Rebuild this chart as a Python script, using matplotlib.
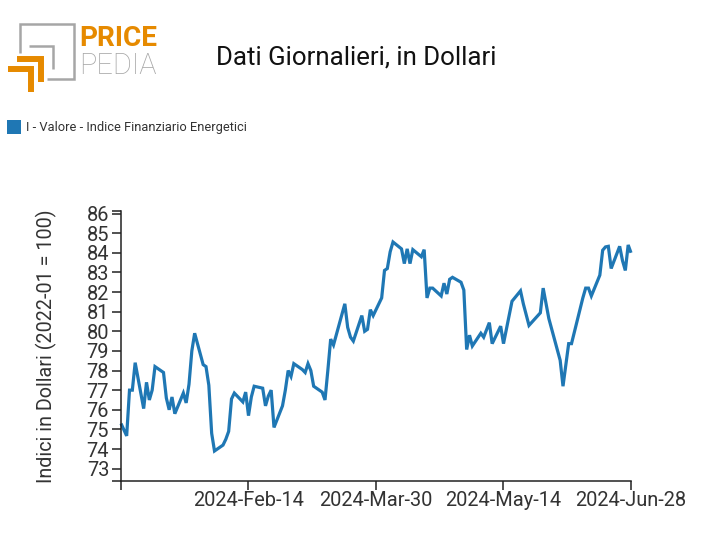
import matplotlib
matplotlib.use("Agg")
import matplotlib.pyplot as plt
from matplotlib.patches import Rectangle
import pandas as pd

plt.rcParams['font.family'] = ['Roboto', 'DejaVu Sans']

START = pd.Timestamp("2023-12-31")

# days since START
days = [0, 2, 3, 4, 5, 8, 9, 10, 11, 12, 15, 16, 17, 18, 19, 22, 23, 24, 25, 26,
        29, 30, 31, 32, 33, 36, 37, 38, 39, 40, 43, 44, 45, 46, 47, 50, 51, 52, 53, 54,
        57, 58, 59, 60, 61, 64, 65, 66, 67, 68, 71, 72, 73, 74, 75, 79, 80, 81, 82,
        85, 86, 87, 88, 89, 92, 93, 94, 95, 96, 99, 100, 101, 102, 103, 106, 107, 108, 109, 110,
        113, 114, 115, 116, 117, 120, 121, 122, 123, 124, 127, 128, 130, 131, 134, 135, 138,
        141, 142, 144, 148, 149, 151, 155, 156, 158, 159, 163, 164, 165, 166, 169, 170, 171, 172, 173,
        176, 177, 178, 179, 180]
values = [75.3, 74.67, 77.0, 77.0, 78.4, 76.06, 77.4, 76.5, 77.0, 78.2, 77.9, 76.6, 76.0, 76.65, 75.8, 76.85, 76.35, 77.3, 79.0, 79.9,
          78.3, 78.2, 77.25, 74.8, 73.9, 74.2, 74.5, 74.9, 76.55, 76.85, 76.4, 76.9, 75.7, 76.65, 77.2, 77.1, 76.2, 76.7, 77.0, 75.1,
          76.2, 77.0, 78.0, 77.7, 78.35, 78.05, 77.9, 78.35, 78.0, 77.2, 76.9, 76.5, 78.0, 79.6, 79.3, 81.4, 80.2, 79.7, 79.5,
          80.8, 80.0, 80.1, 81.1, 80.8, 81.7, 83.1, 83.2, 84.05, 84.55, 84.2, 83.45, 84.2, 83.45, 84.16, 83.8, 84.16, 81.7, 82.2, 82.2,
          81.8, 82.45, 81.9, 82.65, 82.75, 82.5, 82.1, 79.07, 79.8, 79.25, 79.9, 79.7, 80.44, 79.37, 80.26, 79.37, 81.53,
          82.06, 81.4, 80.3, 80.94, 82.2, 80.65, 78.52, 77.2, 79.37, 79.37, 81.7, 82.2, 82.2, 81.8, 82.86, 84.13, 84.3, 84.33, 83.2,
          84.33, 83.6, 83.1, 84.4, 84.0]

y_ticks = list(range(73, 87))
x_tick_dates = ["2023-12-31", "2024-02-14", "2024-03-30", "2024-05-14", "2024-06-28"]
x_tick_labels = ["", "2024-Feb-14", "2024-Mar-30", "2024-May-14", "2024-Jun-28"]
y_limits = (72.37, 86.13)

W, H = 712, 555
fig = plt.figure(figsize=(W / 100, H / 100), dpi=100)
ax = fig.add_axes([121 / W, (H - 481) / H, (631 - 121) / W, (481 - 211) / H])

dates = START + pd.to_timedelta(days, unit="D")
ax.plot(dates, values, color="#1f77b4", lw=2.3, solid_joinstyle="miter", solid_capstyle="butt", clip_on=False)

ax.set_xlim(pd.Timestamp(x_tick_dates[0]), pd.Timestamp(x_tick_dates[-1]))
ax.set_ylim(*y_limits)
ax.set_xticks([pd.Timestamp(d) for d in x_tick_dates])
ax.set_xticklabels(x_tick_labels)
ax.set_yticks(y_ticks)
ax.set_yticks(list(y_limits), minor=True)

for s in ["top", "right"]:
    ax.spines[s].set_visible(False)
for s in ["left", "bottom"]:
    ax.spines[s].set_linewidth(1.1)
    ax.spines[s].set_color("#222222")
ax.tick_params(axis="both", which="both", length=6.5, width=1.1, color="#222222")
ax.tick_params(axis="x", labelsize=14.4, pad=1, labelcolor="#333333")
ax.tick_params(axis="y", labelsize=14.4, pad=2, labelcolor="#333333")
ax.set_ylabel("Indici in Dollari (2022-01 = 100)", fontsize=14.2, color="#333333")
ax.yaxis.set_label_coords((57 - 121) / (631 - 121), 0.5)

# overlay in pixel coordinates: logo, title and legend
ov = fig.add_axes([0, 0, 1, 1], zorder=-1)
ov.set_xlim(0, W)
ov.set_ylim(H, 0)
ov.axis("off")

grey = "#a6a6a6"
orange = "#e68a00"
logo = dict(solid_joinstyle="miter", solid_capstyle="butt")
ov.plot([20, 20, 74, 74, 47], [53, 24, 24, 79, 79], color=grey, lw=1.8, **logo)
ov.plot([29, 53, 53], [46, 46, 69], color=grey, lw=1.8, **logo)
ov.plot([17, 41, 41], [59, 59, 82], color=orange, lw=4.3, **logo)
ov.plot([8, 31, 31], [69, 69, 92], color=orange, lw=4.3, **logo)
ov.text(79, 38, "PRICE", color=orange, fontsize=20.2, fontweight="bold", va="center", ha="left")
ov.text(79, 66, "PEDIA", color=grey, fontsize=20.8, fontweight="light", va="center", ha="left")

ov.text(356, 58, "Dati Giornalieri, in Dollari", fontsize=18.6, color="#111111", ha="center", va="center")

ov.add_patch(Rectangle((7, 120), 14, 14, facecolor="#1f77b4", edgecolor="none"))
ov.text(26, 127, "I - Valore - Indice Finanziario Energetici", fontsize=9.25, color="#333333", va="center", ha="left")

fig.savefig("out.png", dpi=100)
